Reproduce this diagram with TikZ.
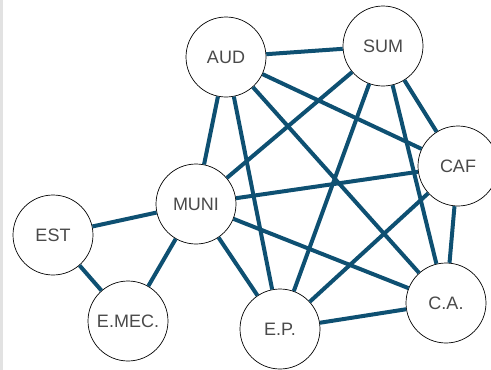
\documentclass[tikz,border=0pt]{standalone}
\usepackage{fontspec}
\setmainfont{Liberation Sans}
\begin{document}
\begin{tikzpicture}[x=1pt, y=-1pt]
    \definecolor{edgeColour}{HTML}{0E5072}
    \definecolor{textColour}{HTML}{4A4A4A}
    \definecolor{frameColour}{HTML}{E2E2E2}

    \tikzset{
        actor/.style={circle, draw=black, line width=0.7pt, fill=white, minimum size=80pt, inner sep=0pt,
            text=textColour, font=\fontsize{18}{20}\selectfont},
        tie/.style={edgeColour, line width=4pt}
    }

    % Page and left frame
    \useasboundingbox (0,0) rectangle (491,370);
    \fill[frameColour] (0,0) rectangle (3,370);

    % Actors
    \node[actor] (AUD) at (226,57) {AUD};
    \node[actor] (SUM) at (383,46) {SUM};
    \node[actor] (CAF) at (458,166) {CAF};
    \node[actor] (MUNI) at (196,204) {MUNI};
    \node[actor] (EST) at (53,235) {EST};
    \node[actor] (EMEC) at (128,321) {E.MEC.};
    \node[actor] (EP) at (280,329) {E.P.};
    \node[actor] (CA) at (446,303) {C.A.};

    % Draw ties
    \draw[tie] (AUD) -- (SUM);
    \draw[tie] (AUD) -- (MUNI);
    \draw[tie] (AUD) -- (EP);
    \draw[tie] (AUD) -- (CA);
    \draw[tie] (AUD) -- (CAF);
    \draw[tie] (SUM) -- (MUNI);
    \draw[tie] (SUM) -- (EP);
    \draw[tie] (SUM) -- (CA);
    \draw[tie] (SUM) -- (CAF);
    \draw[tie] (MUNI) -- (CAF);
    \draw[tie] (MUNI) -- (CA);
    \draw[tie] (MUNI) -- (EP);
    \draw[tie] (MUNI) -- (EST);
    \draw[tie] (MUNI) -- (EMEC);
    \draw[tie] (EST) -- (EMEC);
    \draw[tie] (CAF) -- (EP);
    \draw[tie] (CAF) -- (CA);
    \draw[tie] (EP) -- (CA);

\end{tikzpicture}
\end{document}
